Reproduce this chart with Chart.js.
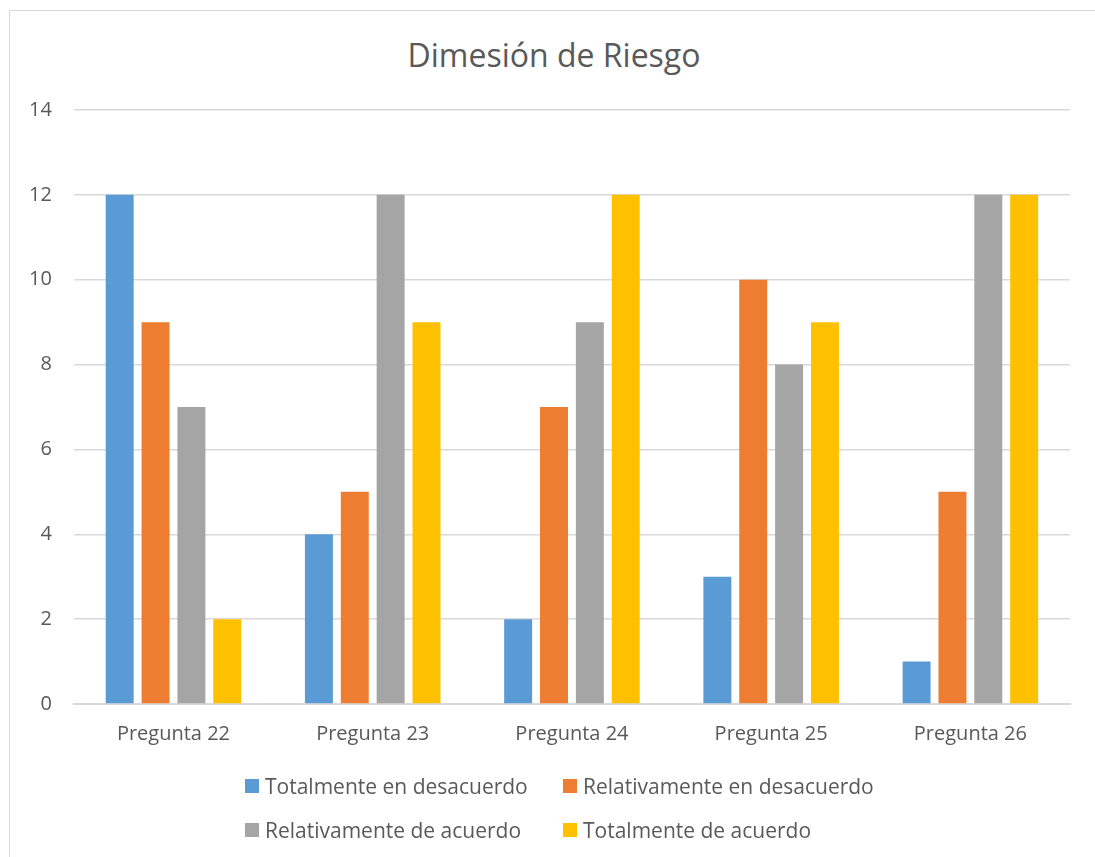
<!DOCTYPE html>
<html>
<head>
<meta charset="utf-8">
<script src="https://cdn.jsdelivr.net/npm/chart.js@4/dist/chart.umd.min.js"></script>
<style>
  html, body { margin: 0; padding: 0; background: #fff; }
  body { width: 1095px; height: 857px; position: relative; overflow: hidden; font-family: "Open Sans", sans-serif; }
  #frame { position: absolute; left: 9px; top: 10px; width: 1090px; height: 870px; border: 1px solid #d9d9d9; box-sizing: border-box; }
  #wrap { position: absolute; left: 0; top: 0; width: 1095px; height: 857px; }
  #titulo { position: absolute; left: 9px; width: 1090px; top: 33px; text-align: center; font-size: 32px; line-height: 44px; color: #595959; }
  #legend { position: absolute; left: 245px; top: 773px; display: grid; grid-template-columns: 318px 320px; row-gap: 18px; }
  .item { display: flex; align-items: center; font-size: 21px; color: #595959; height: 26px; white-space: nowrap; }
  .box { width: 14px; height: 14px; margin-right: 6px; flex: none; }
</style>
</head>
<body>
<div id="frame"></div>
<div id="titulo">Dimesión de Riesgo</div>
<div id="wrap"><canvas id="riesgo" width="1095" height="857"></canvas></div>
<div id="legend"></div>
<script>
// preguntas y respuestas por categoría
const preguntas = ['Pregunta 22', 'Pregunta 23', 'Pregunta 24', 'Pregunta 25', 'Pregunta 26'];
const totalDesacuerdo = [12, 4, 2, 3, 1];
const relDesacuerdo = [9, 5, 7, 10, 5];
const relAcuerdo = [7, 12, 9, 8, 12];
const totalAcuerdo = [2, 9, 12, 9, 12];
const ticksY = [0, 2, 4, 6, 8, 10, 12, 14];

const series = [
    { label: 'Totalmente en desacuerdo', data: totalDesacuerdo, color: '#5b9bd5' },
    { label: 'Relativamente en desacuerdo', data: relDesacuerdo, color: '#ed7d31' },
    { label: 'Relativamente de acuerdo', data: relAcuerdo, color: '#a5a5a5' },
    { label: 'Totalmente de acuerdo', data: totalAcuerdo, color: '#ffc000' }
];

const ctx = document.getElementById('riesgo').getContext('2d');
const chart = new Chart(ctx, {
    type: 'bar',
    data: {
        labels: preguntas,
        datasets: series.map(s => ({
            label: s.label,
            data: s.data,
            backgroundColor: s.color,
            categoryPercentage: 0.72,
            barPercentage: 0.78
        }))
    },
    options: {
        responsive: false,
        animation: false,
        layout: { padding: { top: 110, left: 7, right: 25, bottom: 101 } },
        plugins: {
            legend: { display: false },
            tooltip: { enabled: false },
            title: { display: false }
        },
        scales: {
            x: {
                grid: { display: false },
                border: { color: '#d9d9d9', width: 2 },
                ticks: { color: '#595959', font: { family: 'Open Sans', size: 20 }, padding: 10 }
            },
            y: {
                min: 0,
                max: 14,
                afterBuildTicks: axis => { axis.ticks = ticksY.map(v => ({ value: v })); },
                grid: { color: '#d9d9d9', lineWidth: 1.5, drawTicks: false },
                border: { display: false },
                ticks: { color: '#595959', font: { family: 'Open Sans', size: 20 }, padding: 22 }
            }
        }
    }
});

// leyenda en dos columnas
const legend = document.getElementById('legend');
series.forEach(s => {
    const el = document.createElement('div');
    el.className = 'item';
    el.innerHTML = '<span class="box" style="background:' + s.color + '"></span>' + s.label;
    legend.appendChild(el);
});
</script>
</body>
</html>
